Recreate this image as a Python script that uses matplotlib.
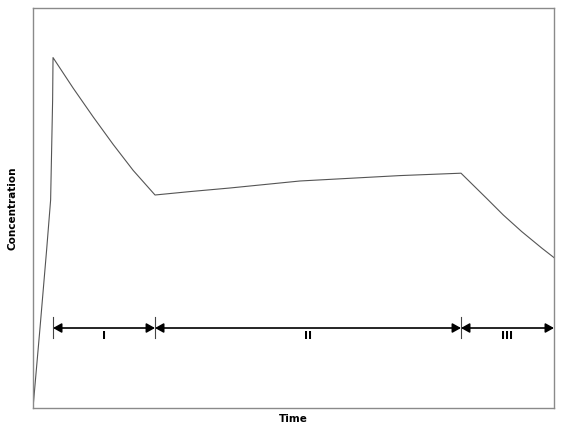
"""
plot.py
purpose: concentration vs time profile with three labelled phases.
"""

import matplotlib
matplotlib.use("Agg")
import matplotlib.pyplot as plt

# curve (time in arbitrary units, concentration 0-100)
time = [0.0, 0.35, 0.68, 0.88, 0.98, 1.0,
        2.0, 3.0, 4.0, 5.0, 6.09,
        7.83, 9.83, 13.32, 18.31, 21.36,
        22.64, 23.47, 24.39, 25.41, 26.0]
conc = [0.0, 20.0, 39.5, 52.0, 77.0, 87.6,
        80.0, 72.8, 65.9, 59.4, 53.25,
        54.1, 55.0, 56.75, 58.1, 58.7,
        52.4, 48.25, 44.1, 39.9, 37.6]

# phase boundaries and labels
phase_edges = [1.0, 6.09, 21.36, 26.0]
phase_labels = ["I", "II", "III"]
ARROW_Y = 20.0

fig = plt.figure(figsize=(5.61, 4.41), dpi=100)
ax = fig.add_axes([0.0588, 0.0748, 0.9287, 0.9071])

ax.plot(time, conc, color="#555555", lw=0.8)

# phase arrows
for i, lab in enumerate(phase_labels):
    x0, x1 = phase_edges[i], phase_edges[i + 1]
    ax.annotate("", xy=(x1, ARROW_Y), xytext=(x0, ARROW_Y),
                arrowprops=dict(arrowstyle="<|-|>,head_length=0.5,head_width=0.28",
                                color="black", lw=1.2, shrinkA=0, shrinkB=0,
                                mutation_scale=10))
    ax.text((x0 + x1) / 2, ARROW_Y - 2.0, lab, ha="center", va="center",
            fontsize=8, fontweight="bold")

# small vertical bars at the boundaries
for x in phase_edges[:-1]:
    ax.plot([x, x], [17.5, 22.75], color="#444444", lw=0.8)

ax.set_xlim(0, 26)
ax.set_ylim(0, 100)
ax.set_xticks([])
ax.set_yticks([])
for s in ax.spines.values():
    s.set_color("#8a8a8a")
    s.set_linewidth(1.0)

ax.set_xlabel("Time", fontsize=7.5, fontweight="bold", labelpad=4)
ax.set_ylabel("Concentration", fontsize=7.5, fontweight="bold", labelpad=11)

fig.savefig("out.png", dpi=100)
